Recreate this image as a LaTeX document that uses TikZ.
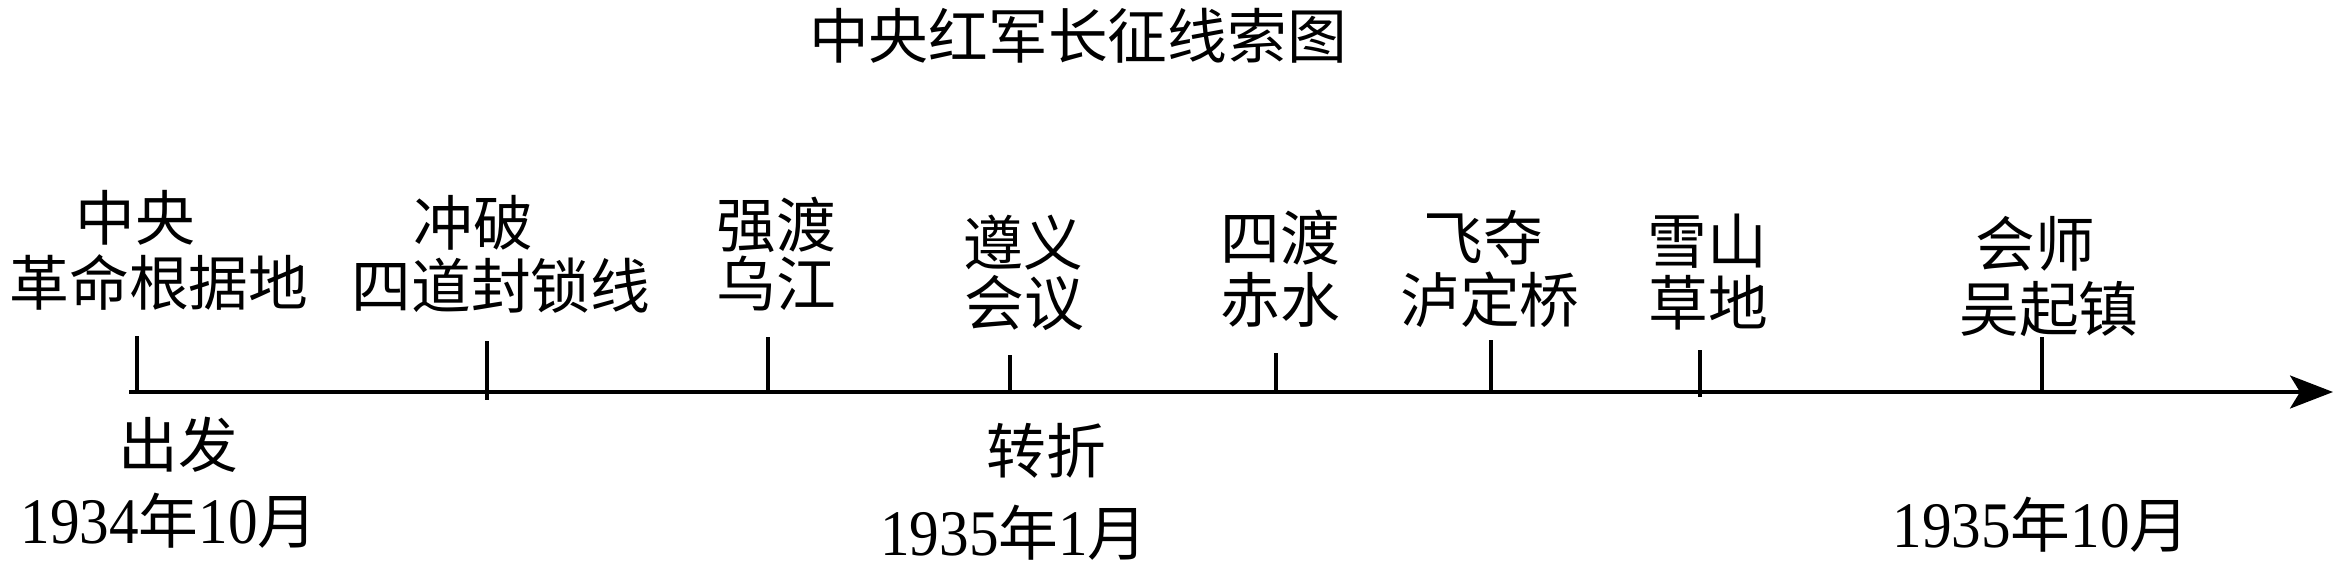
\documentclass[tikz,border=0pt]{standalone}
\usepackage{fontspec}
\setmainfont{Liberation Serif}
\newfontfamily\cjk{Noto Sans CJK SC}
\newfontfamily\digitfont[FakeStretch=0.91]{Liberation Serif}
\usepackage{tikz}
\usetikzlibrary{positioning, arrows.meta}
\newcommand{\zh}[1]{{\cjk\fontsize{17pt}{17pt}\selectfont #1}}
\tikzset{>={Stealth[length=0.43cm, width=0.33cm, inset=0.1cm]}, % arrow head of the time axis
every node/.style={inner sep=0pt, outer sep=0pt},
event/.style={font=\cjk\fontsize{17pt}{17pt}\selectfont}, % the names above and below the axis
date/.style={anchor=base, font=\digitfont\fontsize{18.5pt}{18.5pt}\selectfont}, % the dates
tickline/.style={line width=0.95pt},
timeaxis/.style={line width=0.95pt, ->},
}

\begin{document}
\begin{tikzpicture}
\useasboundingbox (0,0) rectangle (23.43,-5.68);
\node[event] (title) at (10.78,-0.36) {中央红军长征线索图};

\coordinate (start) at (1.29,-3.92);
\coordinate (end) at (23.33,-3.92);
\draw[timeaxis] (start) -- (end);

\coordinate (k1) at (1.37,-3.36);
\coordinate (k2) at (4.87,-3.41);
\coordinate (k2b) at (4.87,-4.00);
\coordinate (k3) at (7.68,-3.37);
\coordinate (k4) at (10.10,-3.55);
\coordinate (k5) at (12.76,-3.53);
\coordinate (k6) at (14.91,-3.40);
\coordinate (k7) at (17.00,-3.50);
\coordinate (k7b) at (17.00,-3.97);
\coordinate (k8) at (20.42,-3.37);

\draw[tickline] (k1) -- (k1 |- start);
\draw[tickline] (k2) -- (k2b);
\draw[tickline] (k3) -- (k3 |- start);
\draw[tickline] (k4) -- (k4 |- start);
\draw[tickline] (k5) -- (k5 |- start);
\draw[tickline] (k6) -- (k6 |- start);
\draw[tickline] (k7) -- (k7b);
\draw[tickline] (k8) -- (k8 |- start);

\node[event] (l1a) at (1.35,-2.18) {中央};
\node[event] (l1b) at (1.59,-2.82) {革命根据地};
\node[event] (l2a) at (4.73,-2.23) {冲破};
\node[event] (l2b) at (5.01,-2.86) {四道封锁线};
\node[event] (l3a) at (7.76,-2.25) {强渡};
\node[event] (l3b) at (7.76,-2.84) {乌江};
\node[event] (l4a) at (10.23,-2.43) {遵义};
\node[event] (l4b) at (10.24,-3.03) {会议};
\node[event] (l5a) at (12.80,-2.38) {四渡};
\node[event] (l5b) at (12.80,-3.00) {赤水};
\node[event] (l6a) at (14.83,-2.38) {飞夺};
\node[event] (l6b) at (14.90,-3.00) {泸定桥};
\node[event] (l7a) at (17.07,-2.41) {雪山};
\node[event] (l7b) at (17.08,-3.03) {草地};
\node[event] (l8a) at (20.35,-2.44) {会师};
\node[event] (l8b) at (20.49,-3.09) {吴起镇};

\node[event] (d1a) at (1.78,-4.45) {出发};
\node[date] (d1b) at (1.69,-5.43) {1934\zh{年}10\zh{月}};
\node[event] (d4a) at (10.46,-4.51) {转折};
\node[date] (d4b) at (10.14,-5.55) {1935\zh{年}1\zh{月}};
\node[date] (d8b) at (20.41,-5.47) {1935\zh{年}10\zh{月}};

\end{tikzpicture}
\end{document}
